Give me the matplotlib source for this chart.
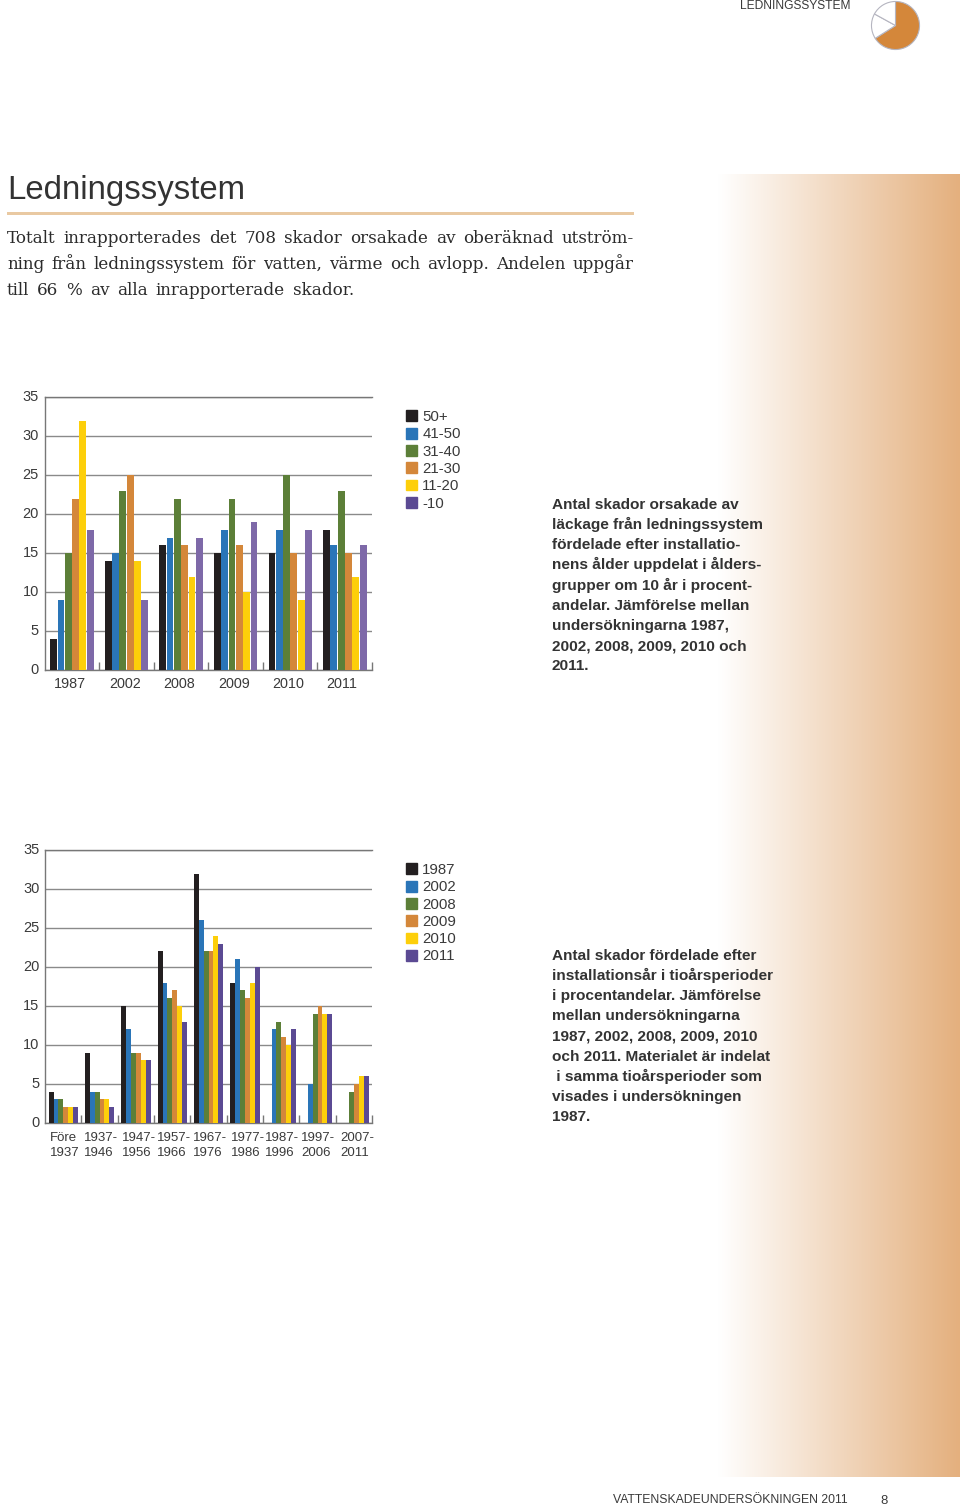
"""Ledningssystem: sida med två stapeldiagram."""
import matplotlib
matplotlib.use('Agg')
import matplotlib.pyplot as plt
from matplotlib.patches import Patch, Rectangle
import numpy as np

W, H = 960, 1507

age_groups = ['50+', '41-50', '31-40', '21-30', '11-20', '-10']
survey_years = ['1987', '2002', '2008', '2009', '2010', '2011']
decades = ['Före\n1937', '1937-\n1946', '1947-\n1956', '1957-\n1966', '1967-\n1976',
           '1977-\n1986', '1987-\n1996', '1997-\n2006', '2007-\n2011']

# per undersökning, ett värde per åldersgrupp
age_1987 = [4, 9, 15, 22, 32, 18]
age_2002 = [14, 15, 23, 25, 14, 9]
age_2008 = [16, 17, 22, 16, 12, 17]
age_2009 = [15, 18, 22, 16, 10, 19]
age_2010 = [15, 18, 25, 15, 9, 18]
age_2011 = [18, 16, 23, 15, 12, 16]

# per tioårsperiod, ett värde per undersökning
dec_fore = [4, 3, 3, 2, 2, 2]
dec_1937 = [9, 4, 4, 3, 3, 2]
dec_1947 = [15, 12, 9, 9, 8, 8]
dec_1957 = [22, 18, 16, 17, 15, 13]
dec_1967 = [32, 26, 22, 22, 24, 23]
dec_1977 = [18, 21, 17, 16, 18, 20]
dec_1987 = [0, 12, 13, 11, 10, 12]
dec_1997 = [0, 5, 14, 15, 14, 14]
dec_2007 = [0, 0, 4, 5, 6, 6]

pie_share = [66, 17, 17]

colors = ['#231f20', '#2a75b8', '#5c7f38', '#d4873a', '#fdcf0a', '#5b4a93']
colors_first = ['#231f20', '#2a75b8', '#5c7f38', '#d4873a', '#fdcf0a', '#7e69a8']

TEXT = '#3a3a3a'
SANS = 'Liberation Sans'
SERIF = 'DejaVu Serif'


def px(size):
    return size * 0.72


def axes_at(fig, x0, x1, y_top, y_bottom):
    return fig.add_axes([x0 / W, 1 - y_bottom / H, (x1 - x0) / W, (y_bottom - y_top) / H])


def bar_chart(ax, rows, labels, bar_colors, pad, fill, size, shifts, spacing):
    rows = np.array(rows)
    n_groups, n_series = rows.shape
    bar_w = 0.134
    for s in range(n_series):
        x = np.arange(n_groups) + 0.1 + bar_w * (s + 0.5)
        ax.bar(x, rows[:, s], width=bar_w * fill, color=bar_colors[s], zorder=3)
    ax.set_xlim(0, n_groups)
    ax.set_ylim(0, 35)
    ax.set_yticks(np.arange(0, 36, 5))
    ax.set_xticks(np.arange(1, n_groups + 1))
    ax.set_xticklabels([])
    ax.tick_params(axis='x', direction='in', length=6, width=1, color='#777777')
    ax.tick_params(axis='y', length=0, pad=4, labelsize=px(14.5), labelcolor=TEXT)
    for label in ax.get_yticklabels():
        label.set_fontfamily(SANS)
        label.set_verticalalignment('center')
    ax.grid(axis='y', color='#8a8a8a', lw=1, zorder=1)
    ax.set_axisbelow(True)
    ax.patch.set_alpha(0)
    ax.spines['right'].set_visible(False)
    for side in ['left', 'bottom', 'top']:
        ax.spines[side].set_color('#777777')
        ax.spines[side].set_linewidth(1)
    for i, label in enumerate(labels):
        ax.annotate(label, (i + 0.5, 0), xycoords=('data', 'axes fraction'),
                    xytext=(shifts[i], -pad), textcoords='offset pixels',
                    ha='center', va='top', ma='left', fontsize=px(size),
                    family=SANS, color=TEXT, linespacing=spacing)


def justified(page, words, x0, x1, y, size):
    renderer = page.figure.canvas.get_renderer()
    items = [page.text(x0, y, w, family=SERIF, fontsize=px(size), color='#2b2b2b', va='baseline')
             for w in words]
    widths = [t.get_window_extent(renderer).width for t in items]
    gap = (x1 - x0 - sum(widths)) / (len(words) - 1)
    x = x0
    for t, w in zip(items, widths):
        t.set_x(x)
        x += w + gap


fig = plt.figure(figsize=(W / 100, H / 100), dpi=100)
page = fig.add_axes([0, 0, 1, 1])
page.set_xlim(0, W)
page.set_ylim(H, 0)
page.axis('off')

# bakgrundstoning till höger
grad = np.linspace(0, 1, 256).reshape(1, -1, 1)
start = np.array([1, 1, 1]).reshape(1, 1, 3)
end = np.array([0xe4, 0xb0, 0x7e]).reshape(1, 1, 3) / 255
page.imshow(start + (end - start) * grad, extent=[718, 960, 1477, 174], aspect='auto', zorder=0)
page.set_xlim(0, W)
page.set_ylim(H, 0)

page.text(740, 6, 'LEDNINGSSYSTEM', family=SANS, fontsize=px(12), color=TEXT, va='center')
page.text(7, 199, 'Ledningssystem', family=SANS, fontsize=px(32.9), color='#333333', va='baseline')
page.add_patch(Rectangle((7, 212), 627, 3, color='#e9c9a2', lw=0))

justified(page, 'Totalt inrapporterades det 708 skador orsakade av oberäknad utström-'.split(),
          7, 634, 243, 16.8)
justified(page, 'ning från ledningssystem för vatten, värme och avlopp. Andelen uppgår'.split(),
          7, 634, 269, 16.8)
justified(page, 'till 66 % av alla inrapporterade skador.'.split(), 7, 354, 295, 16.8)

caption_1 = ['Antal skador orsakade av', 'läckage från ledningssystem', 'fördelade efter installatio-',
             'nens ålder uppdelat i ålders-', 'grupper om 10 år i procent-',
             'andelar. Jämförelse mellan', 'undersökningarna 1987,', '2002, 2008, 2009, 2010 och', '2011.']
caption_2 = ['Antal skador fördelade efter', 'installationsår i tioårsperioder', 'i procentandelar. Jämförelse',
             'mellan undersökningarna', '1987, 2002, 2008, 2009, 2010', 'och 2011. Materialet är indelat',
             ' i samma tioårsperioder som', 'visades i undersökningen', '1987.']
for lines, y0 in [(caption_1, 509), (caption_2, 960)]:
    for i, line in enumerate(lines):
        page.text(552, y0 + i * 20.15, line, family=SANS, weight='bold', fontsize=px(15.35),
                  color='#333333', va='baseline', zorder=5)

page.text(613, 1500, 'VATTENSKADEUNDERSÖKNINGEN 2011', family=SANS, fontsize=px(12.3),
          color=TEXT, va='center')
page.text(880, 1501, '8', family=SANS, fontsize=px(13), color=TEXT, va='center')

ax1 = axes_at(fig, 44.5, 372, 397.3, 670)
bar_chart(ax1, [age_1987, age_2002, age_2008, age_2009, age_2010, age_2011],
          survey_years, colors_first, 7, 0.93, 14.4, [-1.5, -1.5, -1.5, -1.5, -1.5, -3], 1.12)
ax2 = axes_at(fig, 45, 372, 850.3, 1122.7)
bar_chart(ax2, [dec_fore, dec_1937, dec_1947, dec_1957, dec_1967, dec_1977, dec_1987, dec_1997, dec_2007],
          decades, colors, 9, 1.0, 13.2, [1.5, 2, 3, 2, 2, 3, 1, 1, 3], 1.32)

for labels, y_top in [(age_groups, 407), (survey_years, 860)]:
    handles = [Patch(color=c, label=l) for c, l in zip(colors, labels)]
    fig.legend(handles=handles, loc='upper left', bbox_to_anchor=(402.5 / W, 1 - y_top / H),
               frameon=False, handlelength=0.74, handleheight=0.74, handletextpad=0.38,
               labelspacing=0.22, borderpad=0.2, borderaxespad=0,
               labelcolor=TEXT, prop={'family': SANS, 'size': px(15)})

# litet cirkeldiagram uppe till höger
pie_ax = axes_at(fig, 871, 920, 1, 50)
pie_ax.pie(pie_share, colors=['#d4873a', 'white', 'white'], startangle=90, counterclock=False,
           radius=1.0, wedgeprops={'edgecolor': '#b5b5c0', 'linewidth': 0.8})
pie_ax.set_xlim(-1.02, 1.02)
pie_ax.set_ylim(-1.02, 1.02)

fig.savefig('out.png', dpi=100)
